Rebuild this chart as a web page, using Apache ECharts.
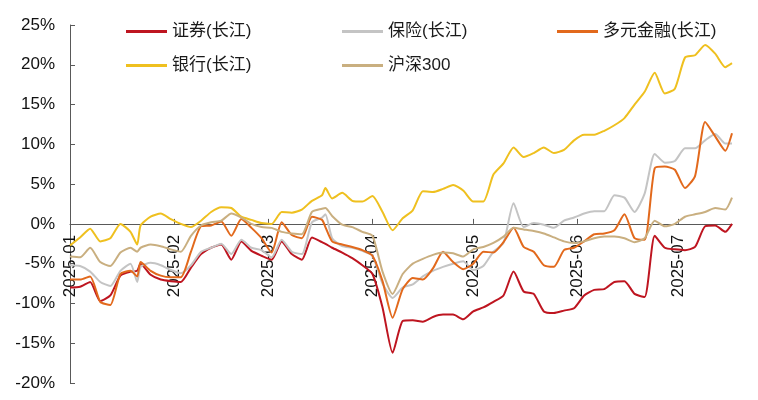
<!DOCTYPE html>
<html>
<head>
<meta charset="utf-8">
<script src="https://cdn.jsdelivr.net/npm/echarts@6/dist/echarts.min.js"></script>
<style>
  html, body { margin: 0; padding: 0; background: #fff; }
  #chart { width: 758px; height: 400px; }
</style>
</head>
<body>
<div id="chart"></div>
<script>
// sample dates (about every 3 calendar days)
const dates = [
  '2025-01-01','2025-01-04','2025-01-07','2025-01-10','2025-01-13','2025-01-16','2025-01-19','2025-01-21','2025-01-22','2025-01-25',
  '2025-01-28','2025-01-31','2025-02-03','2025-02-06','2025-02-09','2025-02-12','2025-02-15','2025-02-18','2025-02-21','2025-02-24',
  '2025-02-27','2025-03-02','2025-03-05','2025-03-08','2025-03-11','2025-03-14','2025-03-17','2025-03-18','2025-03-20','2025-03-23',
  '2025-03-26','2025-03-29','2025-04-01','2025-04-04','2025-04-07','2025-04-10','2025-04-13','2025-04-16','2025-04-19','2025-04-22',
  '2025-04-25','2025-04-28','2025-05-01','2025-05-04','2025-05-07','2025-05-10','2025-05-13','2025-05-16','2025-05-19','2025-05-22',
  '2025-05-25','2025-05-28','2025-05-31','2025-06-03','2025-06-06','2025-06-09','2025-06-12','2025-06-15','2025-06-18','2025-06-21',
  '2025-06-24','2025-06-27','2025-06-30','2025-07-03','2025-07-06','2025-07-09','2025-07-12','2025-07-15','2025-07-17'
]

// cumulative return, %
const zhengquan = [
  -8.0, -7.9, -7.3, -9.7, -9.0, -6.5, -6.0, -5.9, -5.0, -6.4,
  -7.0, -7.2, -7.3, -5.5, -3.8, -3.0, -2.6, -4.5, -2.2, -3.4,
  -4.0, -4.5, -2.2, -3.8, -4.5, -1.7, -2.3, -2.5, -3.0, -3.6,
  -4.3, -5.2, -6.3, -10.5, -16.2, -12.2, -12.1, -12.3, -11.7, -11.4,
  -11.4, -12.0, -11.0, -10.5, -9.8, -9.0, -6.0, -8.5, -8.8, -11.0,
  -11.2, -10.9, -10.6, -9.0, -8.3, -8.2, -7.3, -7.2, -8.8, -9.2,
  -1.5, -3.0, -3.2, -3.3, -2.9, -0.3, -0.2, -1.0, 0.0
]
const baoxian = [
  -5.2, -5.3, -6.0, -7.3, -7.8, -5.9, -5.0, -7.3, -5.4, -4.9,
  -5.2, -5.8, -6.2, -5.2, -3.5, -3.0, -2.5, -3.8, -2.0, -3.0,
  -3.3, -4.2, -2.0, -3.5, -3.8, 0.2, 0.8, 1.2, -1.8, -2.8,
  -3.0, -3.4, -4.0, -7.5, -9.3, -8.0, -7.6, -6.6, -5.9, -5.4,
  -5.0, -4.7, -5.8, -5.3, -3.5, -2.4, 2.6, -0.4, 0.1, -0.1,
  -0.5, 0.4, 0.8, 1.3, 1.6, 1.6, 3.6, 3.3, 1.5, 3.8,
  8.8, 7.7, 7.9, 9.5, 9.5, 10.5, 11.3, 10.1, 10.1
]
const duoyuan = [
  -7.0, -7.0, -6.6, -9.8, -10.2, -6.3, -5.9, -6.6, -4.8, -5.9,
  -6.5, -6.7, -6.7, -3.5, -0.3, -0.2, 0.3, -1.5, 0.6, -0.5,
  -1.8, -3.6, 0.2, -1.4, -1.8, 0.9, 0.5, -0.4, -2.2, -2.6,
  -2.9, -3.3, -4.0, -7.2, -11.8, -8.2, -6.8, -7.0, -5.6, -3.5,
  -4.8, -5.7, -5.0, -3.5, -3.6, -2.3, -0.5, -2.9, -3.5, -5.2,
  -5.4, -3.3, -3.0, -2.2, -1.3, -1.2, -0.8, 1.2, -1.8, -2.0,
  7.0, 7.2, 6.8, 4.5, 6.0, 12.8, 11.0, 9.2, 11.4
]
const yinhang = [
  -2.7, -1.7, -0.6, -2.2, -1.8, 0.0, -1.0, -2.6, -0.2, 0.9,
  1.3, 0.6, 0.0, -0.4, 0.4, 1.5, 2.1, 2.0, 0.9, 0.5,
  0.1, 0.0, 1.5, 1.4, 1.8, 2.9, 3.6, 4.5, 3.2, 3.9,
  2.9, 2.8, 3.5, 1.5, -0.8, 0.7, 1.7, 4.1, 4.0, 4.4,
  4.9, 4.2, 2.8, 2.8, 6.2, 7.6, 9.6, 8.4, 8.9, 9.6,
  8.9, 9.3, 10.5, 11.2, 11.2, 11.7, 12.4, 13.3, 15.0, 16.6,
  19.0, 16.4, 17.0, 20.9, 21.2, 22.5, 21.4, 19.7, 20.2
]
const hs300 = [
  -4.1, -4.2, -3.0, -4.8, -5.3, -3.6, -3.0, -3.5, -3.0, -2.6,
  -2.8, -3.2, -3.5, -1.5, -0.2, 0.2, 0.4, 1.3, 0.8, 0.0,
  -0.4, -0.5, -1.0, -1.2, -1.3, 1.5, 1.9, 2.0, 1.0, -0.1,
  -0.4, -1.0, -1.5, -6.0, -8.8, -6.3, -5.0, -4.4, -3.9, -3.6,
  -3.7, -4.1, -3.2, -2.9, -2.4, -1.6, -0.5, -0.7, -0.9, -1.2,
  -1.7, -2.2, -2.4, -2.2, -1.8, -1.6, -1.6, -1.8, -2.3, -1.8,
  0.4, -0.3, 0.0, 0.9, 1.2, 1.5, 2.0, 1.8, 3.3
]

const seriesNames = ['证券(长江)', '保险(长江)', '多元金融(长江)', '银行(长江)', '沪深300']
const seriesValues = [zhengquan, baoxian, duoyuan, yinhang, hs300]

const colors = ['#BE1520', '#C4C4C4', '#E2691C', '#EFC01F', '#C9AF80']
const legendSpots = [[126, 23], [342, 23], [557, 23], [126, 57], [342, 57]]
const fontStack = '"Liberation Sans", Arial, "Noto Sans CJK SC", sans-serif'
const gridBox = { left: 70, right: 26, top: 25, bottom: 17 }

const chart = echarts.init(document.getElementById('chart'))

const option = {
    animation: false,
    backgroundColor: '#fff',
    grid: Object.assign({ containLabel: false, outerBoundsMode: 'none' }, gridBox),
    legend: seriesNames.map((name, i) => ({
        data: [name],
        left: legendSpots[i][0],
        top: legendSpots[i][1],
        padding: 0,
        icon: 'rect',
        itemWidth: 41,
        itemHeight: 3,
        itemGap: 0,
        textStyle: { fontSize: 17, color: '#1a1a1a', fontFamily: fontStack }
    })),
    xAxis: {
        type: 'time',
        min: '2025-01-01',
        max: '2025-07-17',
        splitNumber: 10,
        offset: 0,
        axisLine: { onZero: false, lineStyle: { color: '#595959', width: 1 } },
        axisTick: { inside: true, length: 5, lineStyle: { color: '#595959' } },
        splitLine: { show: false },
        axisLabel: {
            rotate: 90,
            margin: 11,
            fontSize: 17,
            color: '#111',
            fontFamily: fontStack,
            showMaxLabel: false,
            formatter: function (val) {
                const d = new Date(val)
                if (d.getDate() !== 1) return ''
                return echarts.time.format(val, '{yyyy}-{MM}', false)
            }
        }
    },
    yAxis: {
        type: 'value',
        min: -20,
        max: 25,
        interval: 5,
        axisLine: { show: true, lineStyle: { color: '#595959', width: 1 } },
        axisTick: { show: true, inside: true, length: 5, lineStyle: { color: '#595959' } },
        splitLine: { show: false },
        axisLabel: {
            margin: 15,
            fontSize: 17,
            color: '#111',
            fontFamily: fontStack,
            formatter: '{value}%'
        }
    },
    series: seriesNames.map((name, i) => ({
        name: name,
        type: 'line',
        showSymbol: false,
        smooth: 0.2,
        color: colors[i],
        lineStyle: { width: 2, color: colors[i] },
        data: dates.map((d, j) => [d, seriesValues[i][j]])
    }))
}

chart.setOption(option)

// move the category axis up to the 0% line
const zeroY = chart.convertToPixel({ yAxisIndex: 0 }, 0)
const bottomY = chart.getHeight() - gridBox.bottom
chart.setOption({ xAxis: { offset: -(bottomY - zeroY) } })
</script>
</body>
</html>
